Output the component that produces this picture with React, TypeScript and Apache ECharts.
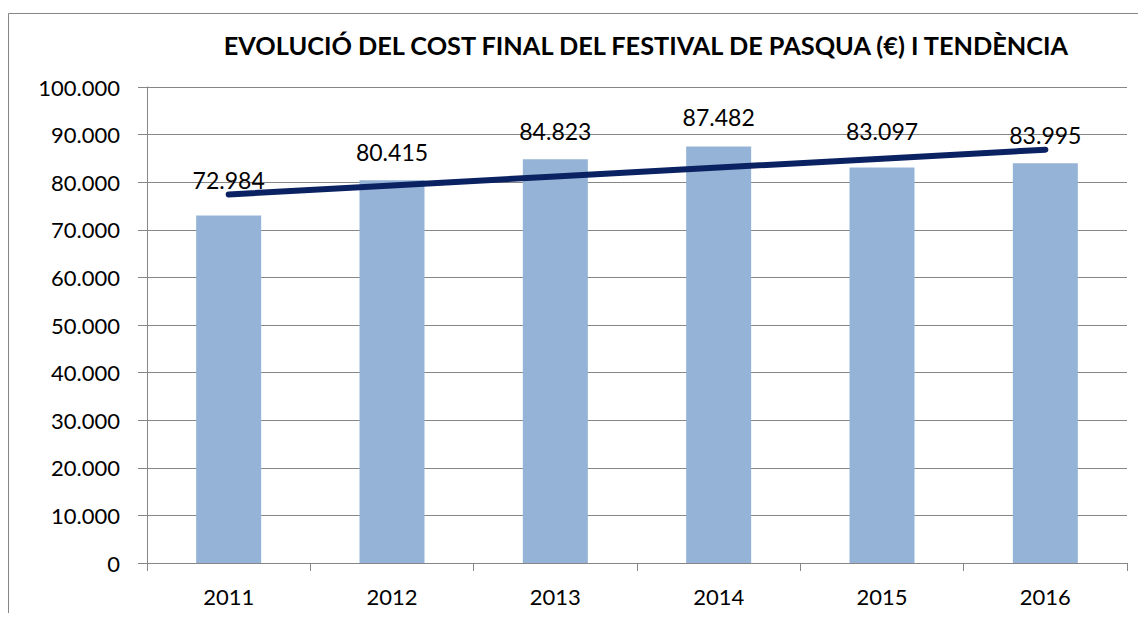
import React, { useEffect, useRef } from "react";
import * as echarts from "echarts";

const title = "EVOLUCIÓ DEL COST FINAL DEL FESTIVAL DE PASQUA (€) I TENDÈNCIA";
const years = ["2011", "2012", "2013", "2014", "2015", "2016"];
const costs = [72984, 80415, 84823, 87482, 83097, 83995];
// label distance above each bar (labels were placed by hand in the original)
const labelGaps = [24, 17, 17, 18, 25, 17];

const FONT = "Lato, 'Liberation Sans', sans-serif";

function fmt(v: number): string {
  return Math.round(v)
    .toString()
    .replace(/\B(?=(\d{3})+(?!\d))/g, ".");
}

// linear trend line (least squares), as in the original spreadsheet
function trendValues(values: number[]): number[] {
  const n = values.length;
  const xs = values.map((_, i) => i + 1);
  const mx = xs.reduce((a, b) => a + b, 0) / n;
  const my = values.reduce((a, b) => a + b, 0) / n;
  let sxy = 0;
  let sxx = 0;
  for (let i = 0; i < n; i++) {
    sxy += (xs[i] - mx) * (values[i] - my);
    sxx += (xs[i] - mx) * (xs[i] - mx);
  }
  const slope = sxy / sxx;
  return xs.map((x) => my + slope * (x - mx));
}

export default function App() {
  const ref = useRef<HTMLDivElement>(null);
  useEffect(() => {
    if (!ref.current) return;
    const chart = echarts.init(ref.current, null, { renderer: "svg" });
    const gridColor = "#868686";
    chart.setOption({
      animation: false,
      backgroundColor: "#ffffff",
      graphic: [
        {
          type: "rect",
          shape: { x: 0.5, y: 5.5, width: 1200, height: 700 },
          style: { fill: "none", stroke: gridColor, lineWidth: 1 },
          silent: true,
          z: 0,
        },
      ],
      title: {
        text: title,
        left: 633,
        top: 19,
        textAlign: "center",
        textStyle: {
          fontFamily: FONT,
          fontWeight: "bold",
          fontSize: 25.3,
          color: "#000",
        },
      },
      grid: { left: 139, top: 79, right: 19, bottom: 50 },
      xAxis: {
        type: "category",
        data: years,
        boundaryGap: true,
        axisLine: { lineStyle: { color: gridColor, width: 1 } },
        axisTick: { show: true, length: 8, lineStyle: { color: gridColor } },
        axisLabel: {
          fontFamily: FONT,
          fontSize: 22,
          color: "#000",
          margin: 22,
        },
      },
      yAxis: {
        type: "value",
        min: 0,
        max: 100000,
        interval: 10000,
        axisLine: { show: true, lineStyle: { color: gridColor, width: 1 } },
        axisTick: { show: true, length: 9, lineStyle: { color: gridColor } },
        splitLine: { lineStyle: { color: gridColor, width: 1 } },
        axisLabel: {
          fontFamily: FONT,
          fontSize: 22,
          color: "#000",
          margin: 27,
          formatter: (v: number) => fmt(v),
        },
      },
      series: [
        {
          type: "bar",
          data: costs.map((v, i) => ({
            value: v,
            label: { distance: labelGaps[i] },
          })),
          barWidth: 65,
          itemStyle: { color: "#95b3d7" },
          label: {
            show: true,
            position: "top",
            fontFamily: FONT,
            fontSize: 23,
            color: "#000",
            formatter: (p: any) => fmt(p.value),
          },
          z: 2,
        },
        {
          type: "line",
          data: trendValues(costs),
          showSymbol: false,
          symbol: "none",
          lineStyle: { color: "#0b2262", width: 6, cap: "round" },
          z: 3,
        },
      ],
    });
    return () => chart.dispose();
  }, []);
  return <div ref={ref} style={{ width: 1138, height: 605 }} />;
}
